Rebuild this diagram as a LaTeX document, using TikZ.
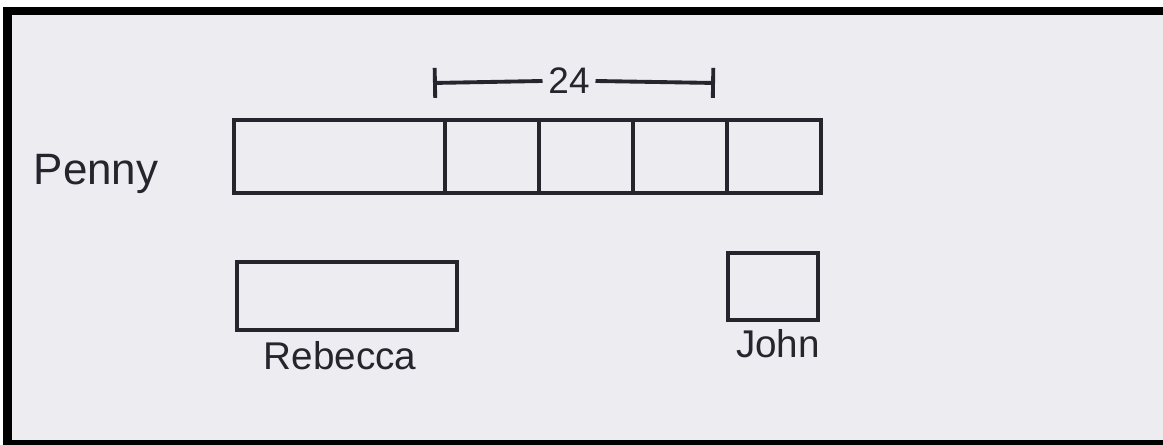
\documentclass[tikz,border=0pt]{standalone}
\usepackage{fontspec}
\setmainfont{Liberation Sans}
\usetikzlibrary{positioning,arrows.meta}
\definecolor{paper}{RGB}{236,236,241}
\definecolor{pencil}{RGB}{38,36,44}

\begin{document}
\begin{tikzpicture}[
  cell/.style={
    draw=pencil,
    line width=1pt,
    minimum height=0.73cm,
    inner sep=0pt,
    outer sep=0pt
  },
  unit/.style={
    cell,
    minimum width=0.94cm
  },
  person/.style={
    text=pencil,
    inner sep=0pt,
    anchor=base,
    font=\fontsize{11}{14}\selectfont
  }
]
\useasboundingbox (0,0) rectangle (11.63,4.45);

% -------- Paper and frame --------
\fill[white] (0,0) rectangle (11.7,4.45);
\fill[black] (0.03,0) rectangle (11.7,4.38);
\fill[paper] (0.12,0.05) rectangle (11.7,4.30);

% -------- Penny --------
\node[cell, minimum width=2.11cm] (p0) at (3.395,2.885) {};
\node[unit, right=0pt of p0] (p1) {};
\node[unit, right=0pt of p1] (p2) {};
\node[unit, right=0pt of p2] (p3) {};
\node[unit, right=0pt of p3] (p4) {};

\node[person, font=\fontsize{12.5}{15}\selectfont] (lpenny) at (0.96,2.60) {Penny};

% -------- Three units = 24 --------
\node[text=pencil, inner sep=1.5pt, font=\fontsize{10.5}{12}\selectfont] (total) at (5.69,3.64) {24};
\coordinate (tl) at (4.33,3.62);
\coordinate (tr) at (7.15,3.62);
\draw[pencil, line width=1.1pt, {Bar[width=3mm]}-] (tl) -- (total.west);
\draw[pencil, line width=1.1pt, -{Bar[width=3mm]}] (total.east) -- (tr);

% -------- Rebecca and John --------
\node[cell, minimum width=2.20cm, minimum height=0.68cm] (rebecca) at (3.47,1.49) {};
\node[cell, minimum width=0.90cm, minimum height=0.67cm] (john) at (7.73,1.585) {};

\node[person] (lrebecca) at (3.40,0.75) {Rebecca};
\node[person] (ljohn) at (7.78,0.87) {John};

\end{tikzpicture}
\end{document}
